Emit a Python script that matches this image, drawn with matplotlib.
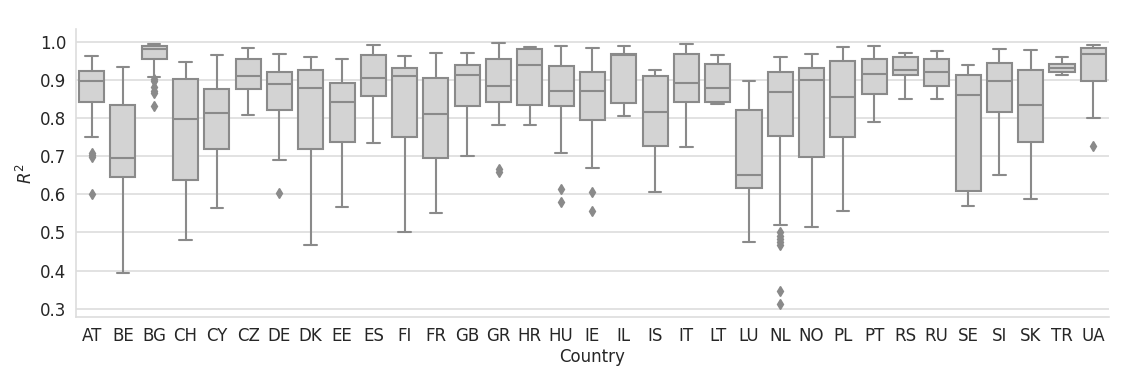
import matplotlib
matplotlib.use("Agg")
import matplotlib.pyplot as plt
import seaborn as sns

# per-country box statistics
countries = ["AT", "BE", "BG", "CH", "CY", "CZ", "DE", "DK", "EE", "ES", "FI",
             "FR", "GB", "GR", "HR", "HU", "IE", "IL", "IS", "IT", "LT", "LU",
             "NL", "NO", "PL", "PT", "RS", "RU", "SE", "SI", "SK", "TR", "UA"]
whislo = [0.750, 0.393, 0.907, 0.481, 0.563, 0.807, 0.690, 0.467, 0.567, 0.734, 0.500,
          0.552, 0.701, 0.782, 0.781, 0.708, 0.669, 0.806, 0.606, 0.725, 0.837, 0.475,
          0.520, 0.515, 0.556, 0.790, 0.849, 0.851, 0.569, 0.650, 0.588, 0.912, 0.801]
q1 = [0.841, 0.645, 0.954, 0.637, 0.720, 0.877, 0.820, 0.720, 0.738, 0.857, 0.749,
      0.694, 0.832, 0.841, 0.833, 0.832, 0.795, 0.839, 0.726, 0.843, 0.841, 0.617,
      0.752, 0.699, 0.751, 0.863, 0.913, 0.883, 0.609, 0.815, 0.736, 0.920, 0.896]
med = [0.897, 0.695, 0.982, 0.798, 0.814, 0.909, 0.889, 0.878, 0.842, 0.906, 0.911,
       0.810, 0.914, 0.885, 0.938, 0.871, 0.871, 0.964, 0.815, 0.892, 0.878, 0.651,
       0.869, 0.899, 0.856, 0.915, 0.927, 0.921, 0.860, 0.897, 0.833, 0.930, 0.968]
q3 = [0.924, 0.833, 0.989, 0.901, 0.876, 0.955, 0.920, 0.927, 0.891, 0.966, 0.930,
      0.904, 0.939, 0.955, 0.980, 0.935, 0.920, 0.967, 0.909, 0.968, 0.941, 0.821,
      0.921, 0.932, 0.949, 0.954, 0.960, 0.955, 0.914, 0.944, 0.926, 0.941, 0.984]
whishi = [0.963, 0.934, 0.994, 0.946, 0.964, 0.983, 0.969, 0.959, 0.955, 0.991, 0.963,
          0.970, 0.970, 0.997, 0.986, 0.990, 0.983, 0.988, 0.927, 0.994, 0.966, 0.898,
          0.961, 0.968, 0.987, 0.989, 0.970, 0.976, 0.938, 0.981, 0.978, 0.961, 0.992]
outliers = {
    "AT": [0.708, 0.703, 0.698, 0.600],
    "BG": [0.902, 0.897, 0.880, 0.872, 0.866, 0.832],
    "DE": [0.604],
    "GR": [0.665, 0.658],
    "HU": [0.613, 0.580],
    "IE": [0.605, 0.555],
    "NL": [0.501, 0.490, 0.484, 0.475, 0.466, 0.346, 0.312],
    "UA": [0.727],
}

sns.set_style("whitegrid")

stats = []
for i, c in enumerate(countries):
    stats.append({"label": c, "whislo": whislo[i], "q1": q1[i], "med": med[i],
                  "q3": q3[i], "whishi": whishi[i], "fliers": outliers.get(c, [])})

fig, ax = plt.subplots(figsize=(11.27, 3.78), dpi=100)
fig.subplots_adjust(left=0.0674, right=0.984, bottom=0.161, top=0.923)

line_col = "#8a8a8a"
ax.bxp(stats, positions=range(len(countries)), widths=0.8, patch_artist=True,
       boxprops=dict(facecolor="#d3d3d3", edgecolor=line_col, linewidth=1.5),
       medianprops=dict(color=line_col, linewidth=1.5),
       whiskerprops=dict(color=line_col, linewidth=1.5),
       capprops=dict(color=line_col, linewidth=1.5),
       flierprops=dict(marker="d", markerfacecolor=line_col, markeredgecolor=line_col,
                       markersize=5))

ax.set_xlim(-0.5, len(countries) - 0.5)
ax.set_ylim(0.278, 1.033)
ax.set_yticks([0.3, 0.4, 0.5, 0.6, 0.7, 0.8, 0.9, 1.0])
ax.xaxis.grid(False)
ax.yaxis.grid(True, color="#dddddd", linewidth=1.2)
ax.tick_params(labelsize=12, colors="#262626", length=0, pad=7)
ax.set_xlabel("Country", fontsize=12, color="#262626", labelpad=2)
ax.set_ylabel("$R^2$", fontsize=12, color="#262626", labelpad=3)
for side in ["top", "right"]:
    ax.spines[side].set_visible(False)
for side in ["left", "bottom"]:
    ax.spines[side].set_color("#dddddd")
    ax.spines[side].set_linewidth(1.2)

fig.savefig("out.png", dpi=100)
